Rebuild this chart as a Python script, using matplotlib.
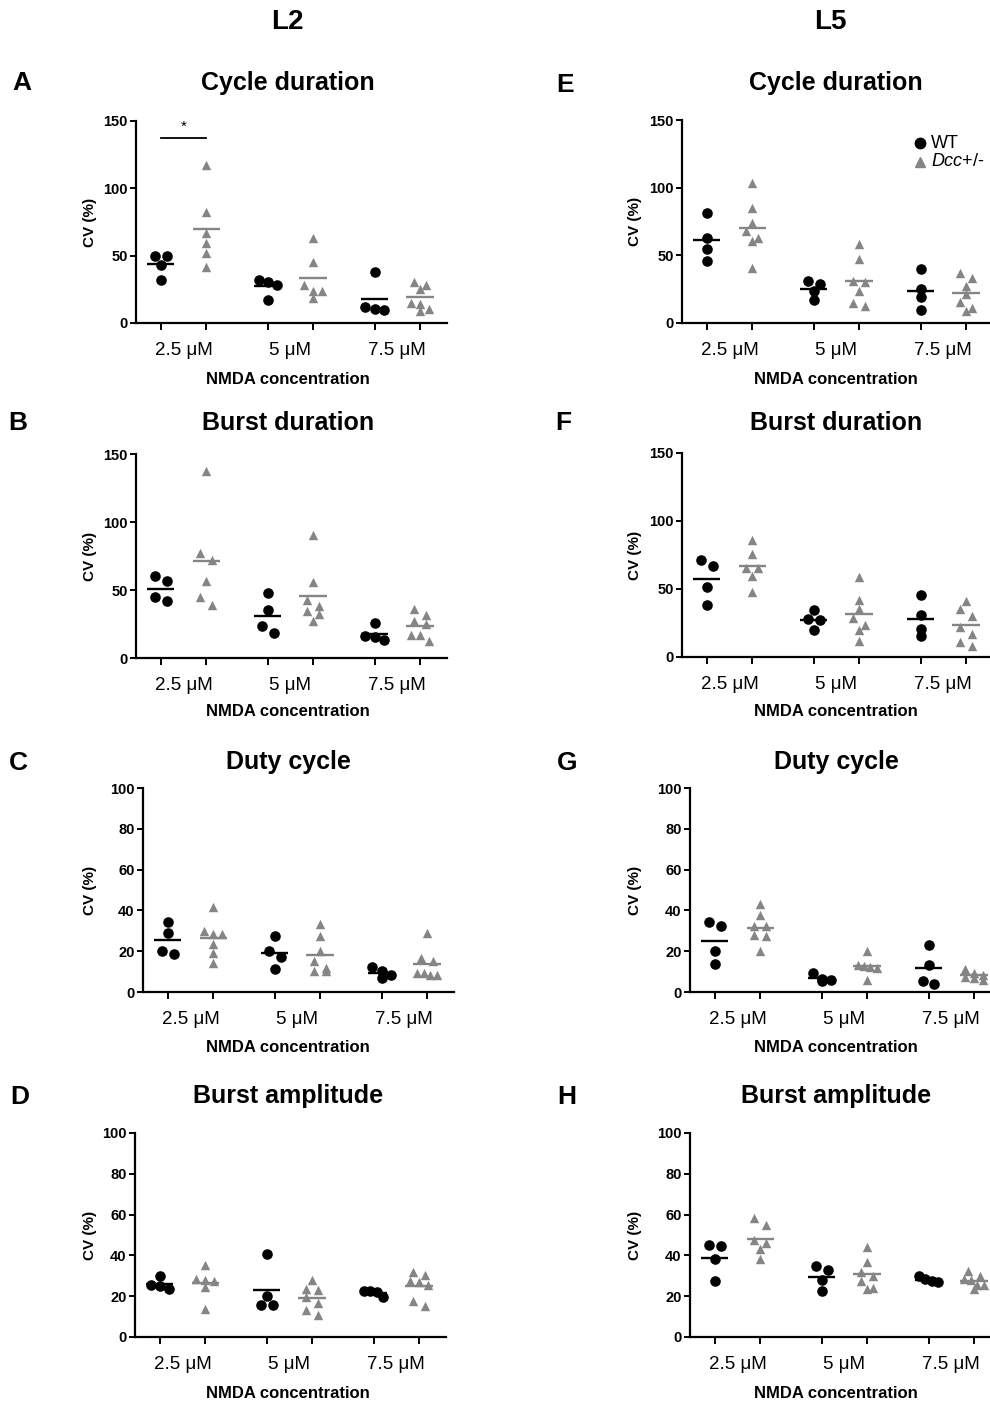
"""
CV (%) of locomotor-like activity parameters in WT vs Dcc+/- cords,
L2 and L5 ventral roots, at three NMDA concentrations.

Usage:
    python plot.py
"""
import numpy as np
import matplotlib
matplotlib.use("Agg")
import matplotlib.pyplot as plt
from matplotlib.lines import Line2D

plt.rcParams["font.family"] = ["Liberation Sans", "DejaVu Sans"]
plt.rcParams["mathtext.fontset"] = "custom"
plt.rcParams["mathtext.it"] = "Liberation Sans:italic"
plt.rcParams["mathtext.rm"] = "Liberation Sans"

# ── Data (CV %) ──────────────────────────────────────────────────────────────

CONC_LABELS = ["2.5 μM", "5 μM", "7.5 μM"]

# L2
CYCLE_L2_WT = [[49.8, 49.8, 42.7, 32.1], [30.8, 32.1, 28.4, 17.3], [38.0, 11.6, 10.4, 9.9]]
CYCLE_L2_DCC = [[117.2, 82.7, 66.6, 59.2, 51.8, 41.9],
                [62.9, 45.6, 28.4, 23.4, 23.4, 18.5],
                [30.8, 28.4, 25.2, 14.8, 14.3, 10.4, 9.1]]
BURST_L2_WT = [[60.5, 56.4, 44.6, 41.7], [47.8, 35.5, 23.3, 18.4], [25.7, 16.4, 15.2, 13.5]]
BURST_L2_DCC = [[137.3, 77.2, 72.3, 56.9, 44.6, 39.2],
                [90.2, 55.6, 42.4, 38.0, 34.3, 32.4, 27.0],
                [36.0, 31.4, 27.0, 25.2, 17.2, 17.2, 12.7]]
DUTY_L2_WT = [[34.3, 28.9, 20.3, 18.6], [27.3, 19.9, 17.2, 11.4], [12.1, 10.5, 8.5, 6.9]]
DUTY_L2_DCC = [[41.7, 29.7, 28.6, 28.6, 23.5, 19.1, 14.2],
               [33.5, 27.3, 19.9, 15.0, 11.8, 10.1, 10.5],
               [28.9, 16.7, 15.0, 9.3, 9.3, 8.5, 8.2]]
AMP_L2_WT = [[30.1, 25.7, 24.8, 23.7], [40.5, 19.9, 15.5, 15.5], [22.5, 22.5, 21.9, 19.4]]
AMP_L2_DCC = [[35.5, 28.4, 28.1, 27.6, 24.3, 13.7],
              [28.1, 23.5, 22.9, 19.4, 16.7, 13.4, 10.9],
              [31.7, 30.5, 27.5, 26.8, 25.6, 17.5, 15.0]]

# L5
CYCLE_L5_WT = [[81.5, 62.6, 54.7, 46.0], [30.7, 29.0, 23.9, 17.2], [39.8, 25.1, 19.2, 9.8]]
CYCLE_L5_DCC = [[103.2, 85.2, 73.7, 68.0, 62.6, 60.6, 40.4],
                [58.3, 47.5, 30.7, 30.0, 23.4, 14.8, 12.3],
                [36.9, 33.2, 27.0, 21.4, 15.2, 11.1, 9.1]]
BURST_L5_WT = [[71.6, 67.2, 51.2, 38.0], [34.3, 28.2, 27.0, 19.6], [45.3, 31.1, 20.8, 15.2]]
BURST_L5_DCC = [[86.3, 75.7, 65.4, 65.4, 59.3, 47.5],
                [58.8, 42.2, 35.3, 28.7, 23.8, 19.6, 12.0],
                [40.9, 35.3, 29.9, 22.1, 17.2, 10.8, 8.3]]
DUTY_L5_WT = [[34.3, 32.2, 20.0, 13.9], [9.3, 6.5, 6.0, 5.6], [23.2, 13.4, 5.5, 4.1]]
DUTY_L5_DCC = [[43.1, 37.9, 32.5, 32.5, 28.1, 27.3, 19.9],
               [19.9, 13.2, 12.6, 12.1, 11.8, 6.0],
               [11.5, 9.5, 8.5, 7.5, 7.0, 6.0]]
AMP_L5_WT = [[45.3, 44.4, 38.2, 27.3], [35.0, 33.0, 28.1, 22.4], [29.7, 28.6, 27.3, 27.0]]
AMP_L5_DCC = [[58.3, 55.1, 47.7, 46.1, 43.1, 38.4],
              [44.1, 36.6, 31.7, 29.7, 27.5, 23.9, 23.7],
              [32.5, 30.1, 28.5, 28.1, 25.6, 25.3, 23.7]]

SIG_A = 137.4  # height of the * bar in panel A

# ── Layout (pixels on a 990x1403 canvas) ─────────────────────────────────────

W, H = 990, 1403
AX_W = 311
GAP = 2.35          # distance between concentration groups (x units)
PX_PER_X = 45.5
WT_COLOR = "black"
DCC_COLOR = "#858585"

# letter, title, wt, dcc, ymax, ystep, axis left px, axis bottom px, axis height px,
# letter xy, title y, x-label y
PANELS = [
    ("A", "Cycle duration", CYCLE_L2_WT, CYCLE_L2_DCC, 150, 50, 136, 323, 202, (22, 83), 83, 379),
    ("B", "Burst duration", BURST_L2_WT, BURST_L2_DCC, 150, 50, 136, 658, 204, (18, 423), 423, 711),
    ("C", "Duty cycle", DUTY_L2_WT, DUTY_L2_DCC, 100, 20, 143, 992, 204, (18, 763), 762, 1048),
    ("D", "Burst amplitude", AMP_L2_WT, AMP_L2_DCC, 100, 20, 135, 1337, 204, (20, 1097), 1096, 1393),
    ("E", "Cycle duration", CYCLE_L5_WT, CYCLE_L5_DCC, 150, 50, 682, 323, 203, (565, 85), 83, 379),
    ("F", "Burst duration", BURST_L5_WT, BURST_L5_DCC, 150, 50, 682, 657, 204, (563, 423), 423, 711),
    ("G", "Duty cycle", DUTY_L5_WT, DUTY_L5_DCC, 100, 20, 690, 992, 204, (567, 763), 762, 1048),
    ("H", "Burst amplitude", AMP_L5_WT, AMP_L5_DCC, 100, 20, 690, 1337, 204, (567, 1097), 1096, 1393),
]


def fx(px):
    return px / W


def fy(py):
    return 1 - py / H


def swarm(vals, center, ymax, hpx, row_px=7.5):
    """Spread points sideways when they sit within one marker height."""
    vals = np.asarray(vals, dtype=float)
    scale = hpx / ymax
    order = np.argsort(-vals, kind="stable")
    rows, cur = [], [order[0]]
    for i in order[1:]:
        if (vals[cur[0]] - vals[i]) * scale < row_px:
            cur.append(i)
        else:
            rows.append(cur)
            cur = [i]
    rows.append(cur)
    xs = np.zeros(len(vals))
    for r in rows:
        n = len(r)
        step = 0.26 if n <= 2 else (0.2 if n == 3 else 0.14)
        for k, i in enumerate(r):
            xs[i] = center + (k - (n - 1) / 2) * step
    return xs


def draw_panel(fig, spec):
    (letter, title, wt, dcc, ymax, ystep, left, bottom, hpx,
     lxy, title_y, xlab_y) = spec
    ax = fig.add_axes([fx(left), fy(bottom), AX_W / W, hpx / H])

    x0 = -24.7 / PX_PER_X
    ax.set_xlim(x0, x0 + AX_W / PX_PER_X)
    ax.set_ylim(0, ymax)

    cols = []
    for g in range(3):
        for k, (vals, color, marker, size) in enumerate(
                [(wt[g], WT_COLOR, "o", 58), (dcc[g], DCC_COLOR, "^", 46)]):
            xc = g * GAP + k
            cols.append(xc)
            xs = swarm(vals, xc, ymax, hpx)
            ax.scatter(xs, vals, s=size, marker=marker, color=color,
                       linewidths=0, zorder=3, clip_on=False)
            m = np.mean(vals)
            ax.plot([xc - 0.3, xc + 0.3], [m, m], color=color, lw=1.7,
                    zorder=4, solid_capstyle="butt")

    for side in ["top", "right"]:
        ax.spines[side].set_visible(False)
    for side in ["left", "bottom"]:
        ax.spines[side].set_linewidth(1.6)

    ax.set_yticks(np.arange(0, ymax + 1, ystep))
    ax.set_yticklabels([str(int(v)) for v in np.arange(0, ymax + 1, ystep)],
                       fontsize=10.5, fontweight="bold")
    ax.tick_params(axis="y", length=4.5, width=1.4, pad=1.5)

    ax.set_xticks(cols)
    ax.set_xticklabels([])
    ax.tick_params(axis="x", which="major", length=5, width=1.4)
    centers = [g * GAP + 0.5 for g in range(3)]
    ax.set_xticks(centers, minor=True)
    ax.set_xticklabels(CONC_LABELS, minor=True, fontsize=13.5)
    ax.tick_params(axis="x", which="minor", length=0, pad=14)

    mid_x = 288 if left < 500 else 836
    fig.text(fx(mid_x), fy(title_y), title, fontsize=18, fontweight="bold",
             ha="center", va="center")
    fig.text(fx(mid_x), fy(xlab_y), "NMDA concentration", fontsize=12,
             fontweight="bold", ha="center", va="center")
    fig.text(fx(lxy[0]), fy(lxy[1]), letter, fontsize=19, fontweight="bold",
             ha="center", va="center")
    ylab_x = 90 if left < 500 else 635
    fig.text(fx(ylab_x), fy(bottom - hpx / 2), "CV (%)", fontsize=11,
             fontweight="bold", rotation=90, ha="center", va="center")
    return ax


def main():
    fig = plt.figure(figsize=(W / 100, H / 100), dpi=100)

    axes = {}
    for spec in PANELS:
        axes[spec[0]] = draw_panel(fig, spec)

    # column headers
    fig.text(fx(287), fy(22), "L2", fontsize=20, fontweight="bold", ha="center", va="center")
    fig.text(fx(830), fy(22), "L5", fontsize=20, fontweight="bold", ha="center", va="center")

    # significance in panel A (2.5 μM, WT vs Dcc+/-)
    ax = axes["A"]
    ax.plot([0, 1], [SIG_A, SIG_A], color="black", lw=1.3, clip_on=False)
    ax.text(0.5, SIG_A + 8, "*", ha="center", va="center", fontsize=11)

    # legend in panel E
    fig.add_artist(Line2D([fx(920)], [fy(143)], marker="o", markersize=7.5,
                          color=WT_COLOR, linestyle="none", transform=fig.transFigure))
    fig.add_artist(Line2D([fx(920)], [fy(162)], marker="^", markersize=6.5,
                          color=DCC_COLOR, linestyle="none", transform=fig.transFigure))
    fig.text(fx(931), fy(143), "WT", fontsize=13, ha="left", va="center")
    fig.text(fx(931), fy(162), r"$\mathit{Dcc}$+/-", fontsize=13, ha="left", va="center")

    fig.savefig("out.png", dpi=100)
    plt.close(fig)


if __name__ == "__main__":
    main()
